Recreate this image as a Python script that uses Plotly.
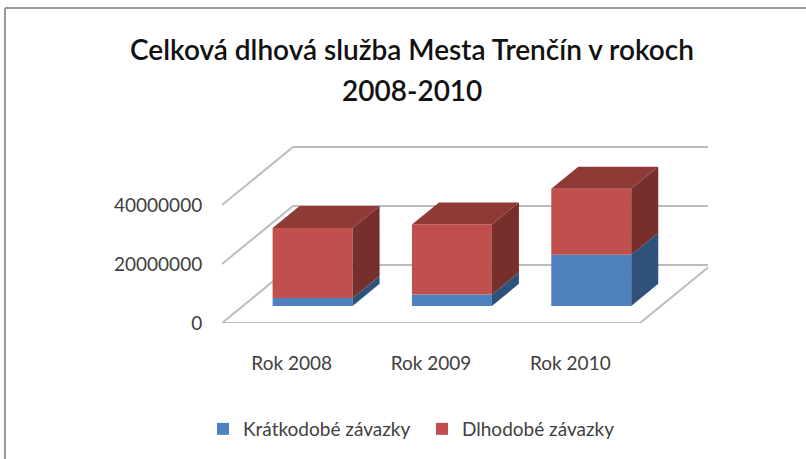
import plotly.graph_objects as go

categories = ["Rok 2008", "Rok 2009", "Rok 2010"]
short_term = [2700000, 3900000, 17300000]
long_term = [23700000, 23700000, 22400000]
y_ticks = [0, 20000000, 40000000]
series_names = ["Krátkodobé závazky", "Dlhodobé závazky"]
title_lines = ["Celková dlhová služba Mesta Trenčín v rokoch", "2008-2010"]

BLUE, BLUE_SIDE = "#4f81bd", "#2f527d"
RED, RED_SIDE, RED_TOP = "#c0504d", "#772f2c", "#8f3a37"
GRID = "#bcbcbc"
TEXT = "#404040"
FONT = "Lato"
TITLE_FONT = dict(family=FONT, size=28, color="#111111", weight=600)

W, H = 806, 459
L, R, T, B = 222, 708, 146, 323
Y_MAX = 60000000
X_MIN = -0.5
X_MAX = 2.988

# projection of the pseudo 3-D box, in axis units
DEPTH_X = 0.5096
DEPTH_Y = 19660000
BAR_WIDTH = 0.574
BAR_FRONT = 0.295
BAR_BACK = 0.675


def project(x, v, depth):
    return x + depth * DEPTH_X, v + depth * DEPTH_Y


fig = go.Figure()

xs = list(range(len(categories)))
front_x = [x + BAR_FRONT * DEPTH_X for x in xs]
front_base = BAR_FRONT * DEPTH_Y

fig.add_bar(x=front_x, y=short_term, base=[front_base] * 3, width=BAR_WIDTH,
            marker=dict(color=BLUE, line_width=0), name=series_names[0])
fig.add_bar(x=front_x, y=long_term, base=[front_base + s for s in short_term],
            width=BAR_WIDTH, marker=dict(color=RED, line_width=0), name=series_names[1])


def polygon(points, color):
    fig.add_scatter(x=[p[0] for p in points], y=[p[1] for p in points], mode="lines",
                    fill="toself", fillcolor=color, line=dict(width=0),
                    showlegend=False, hoverinfo="skip")


for x, s, l in zip(xs, short_term, long_term):
    right = x + BAR_WIDTH / 2
    left = x - BAR_WIDTH / 2
    levels = [0, s, s + l]
    for lo, hi, col in [(levels[0], levels[1], BLUE_SIDE), (levels[1], levels[2], RED_SIDE)]:
        polygon([project(right, lo, BAR_FRONT), project(right, lo, BAR_BACK),
                 project(right, hi, BAR_BACK), project(right, hi, BAR_FRONT)], col)
    polygon([project(left, levels[2], BAR_FRONT), project(right, levels[2], BAR_FRONT),
             project(right, levels[2], BAR_BACK), project(left, levels[2], BAR_BACK)], RED_TOP)

shapes = []


def seg(p, q):
    shapes.append(dict(type="line", xref="x", yref="y", x0=p[0], y0=p[1], x1=q[0], y1=q[1],
                       layer="below", line=dict(color=GRID, width=2)))


x0, x1 = -0.5, 2.5
for v in y_ticks:
    seg(project(x0, v, 0), project(x0, v, 1))
    seg(project(x0, v, 1), project(x1, v, 1))
seg(project(x0, 0, 0), project(x1, 0, 0))
seg(project(x1, 0, 0), project(x1, 0, 1))

# outer chart frame (left and top edges of the picture)
shapes.append(dict(type="line", xref="paper", yref="paper",
                   x0=(5 - L) / (R - L), x1=(W - L) / (R - L),
                   y0=(B - 8) / (B - T), y1=(B - 8) / (B - T),
                   line=dict(color="#9a9a9a", width=2)))
shapes.append(dict(type="line", xref="paper", yref="paper",
                   x0=(5 - L) / (R - L), x1=(5 - L) / (R - L),
                   y0=(B - 8) / (B - T), y1=(B - H) / (B - T),
                   line=dict(color="#9a9a9a", width=2)))

fig.update_layout(
    width=W, height=H, autosize=False,
    margin=dict(l=L, r=W - R, t=T, b=H - B, pad=0, autoexpand=False),
    paper_bgcolor="white", plot_bgcolor="rgba(0,0,0,0)",
    barmode="overlay", hovermode=False, shapes=shapes,
    title=dict(text=title_lines[0], x=412 / W, xanchor="center",
               y=1 - 50 / H, yanchor="middle", font=TITLE_FONT),
    annotations=[dict(text=title_lines[1], xref="paper", yref="paper",
                      x=(412 - L) / (R - L), y=(B - 90) / (B - T),
                      xanchor="center", yanchor="middle", showarrow=False, font=TITLE_FONT)],
    legend=dict(orientation="h", x=(203 - L) / (R - L), xanchor="left",
                y=(B - 410) / (B - T), yanchor="top",
                font=dict(family=FONT, size=19, color=TEXT),
                traceorder="normal", itemwidth=30,
                entrywidth=174, entrywidthmode="pixels"),
    font=dict(family=FONT, color=TEXT),
)
fig.update_xaxes(range=[X_MIN, X_MAX], tickmode="array", tickvals=xs, ticktext=categories,
                 automargin=False,
                 showgrid=False, zeroline=False, showline=False, ticks="outside", ticklen=23,
                 tickcolor="rgba(0,0,0,0)", tickfont=dict(family=FONT, size=19, color=TEXT))
fig.update_yaxes(range=[0, Y_MAX], tickmode="array", tickvals=y_ticks,
                 ticktext=[str(v) for v in y_ticks],
                 automargin=False,
                 showgrid=False, zeroline=False, showline=False, ticks="outside", ticklen=15,
                 tickcolor="rgba(0,0,0,0)", tickfont=dict(family=FONT, size=19, color=TEXT))

fig.write_html("out.html", post_script="document.body.style.margin='0';",
               config=dict(displayModeBar=False))
